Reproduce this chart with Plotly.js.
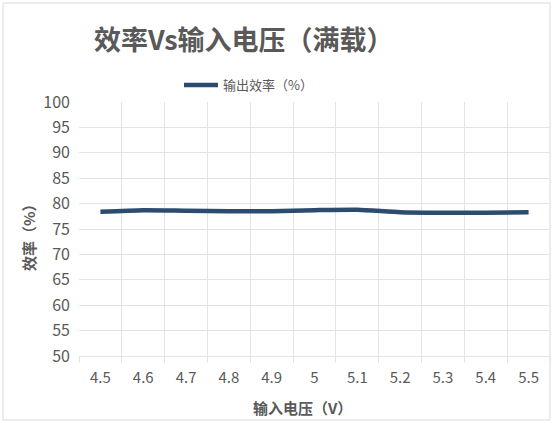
<!DOCTYPE html>
<html>
<head>
<meta charset="utf-8">
<script src="https://cdn.plot.ly/plotly-3.0.1.min.js"></script>
<style>
html,body{margin:0;padding:0;background:#fff;}
#chart{width:555px;height:423px;}
</style>
</head>
<body>
<div id="chart"></div>
<script>
// Data
var voltages = ['4.5','4.6','4.7','4.8','4.9','5','5.1','5.2','5.3','5.4','5.5'];
var efficiency = [78.4, 78.7, 78.6, 78.5, 78.5, 78.7, 78.8, 78.3, 78.2, 78.2, 78.3];
var seriesName = '输出效率（%）';
var chartTitle = '效率Vs输入电压（满载）';
var xTitle = '输入电压（V）';
var yTitle = '效率（%）';

var W = 555, H = 423;
var mL = 79, mR = 5, mT = 102, mB = 67;
var pw = W - mL - mR, ph = H - mT - mB;
function px(x){ return (x - mL) / pw; }
function py(y){ return (H - mB - y) / ph; }

var fontFam = '"Noto Sans CJK SC", "Noto Sans", sans-serif';
var gridCol = '#e3e3e3';
var textCol = '#595959';

var trace = {
  x: voltages,
  y: efficiency,
  type: 'scatter',
  mode: 'lines',
  name: seriesName,
  line: {color: '#2b4c6f', width: 4.5, shape: 'spline', smoothing: 0.6},
  hoverinfo: 'skip'
};

var layout = {
  width: W, height: H,
  margin: {l: mL, r: mR, t: mT, b: mB, pad: 0},
  paper_bgcolor: '#ffffff',
  plot_bgcolor: '#ffffff',
  font: {family: fontFam, color: textCol, size: 14},
  showlegend: true,
  legend: {
    orientation: 'h',
    x: px(179), xanchor: 'left',
    y: py(85), yanchor: 'middle',
    font: {size: 13, color: textCol, family: fontFam},
    bgcolor: 'rgba(0,0,0,0)',
    itemwidth: 34
  },
  xaxis: {
    type: 'category',
    range: [-0.5, 10.5],
    tickson: 'boundaries',
    ticks: 'outside',
    ticklen: 6,
    tickcolor: gridCol,
    showgrid: true,
    gridcolor: gridCol,
    gridwidth: 1,
    showline: true,
    linecolor: gridCol,
    linewidth: 1,
    zeroline: false,
    ticklabelstandoff: 8,
    tickfont: {size: 15, color: textCol, family: fontFam},
    fixedrange: true
  },
  yaxis: {
    range: [50, 100],
    dtick: 5,
    tick0: 50,
    showgrid: true,
    gridcolor: gridCol,
    gridwidth: 1,
    zeroline: false,
    showline: false,
    ticks: '',
    ticklabelstandoff: 8,
    tickfont: {size: 16, color: textCol, family: fontFam},
    fixedrange: true
  },
  annotations: [
    {
      text: '<b>' + chartTitle + '</b>',
      xref: 'paper', yref: 'paper',
      x: px(92), xanchor: 'left',
      y: py(38), yanchor: 'middle',
      showarrow: false,
      font: {size: 27, color: textCol, family: fontFam}
    },
    {
      text: '<b>' + xTitle + '</b>',
      xref: 'paper', yref: 'paper',
      x: px(302), xanchor: 'center',
      y: py(407), yanchor: 'middle',
      showarrow: false,
      font: {size: 15, color: textCol, family: fontFam}
    },
    {
      text: '<b>' + yTitle + '</b>',
      xref: 'paper', yref: 'paper',
      x: px(28), xanchor: 'center',
      y: py(234), yanchor: 'middle',
      textangle: -90,
      showarrow: false,
      font: {size: 15, color: textCol, family: fontFam}
    }
  ],
  shapes: [
    {
      type: 'rect', xref: 'paper', yref: 'paper',
      x0: px(3), x1: px(550), y0: py(420), y1: py(3),
      line: {color: '#d9d9d9', width: 1},
      fillcolor: 'rgba(0,0,0,0)',
      layer: 'below'
    }
  ]
};

Plotly.newPlot('chart', [trace], layout, {displayModeBar: false, staticPlot: true});
</script>
</body>
</html>
